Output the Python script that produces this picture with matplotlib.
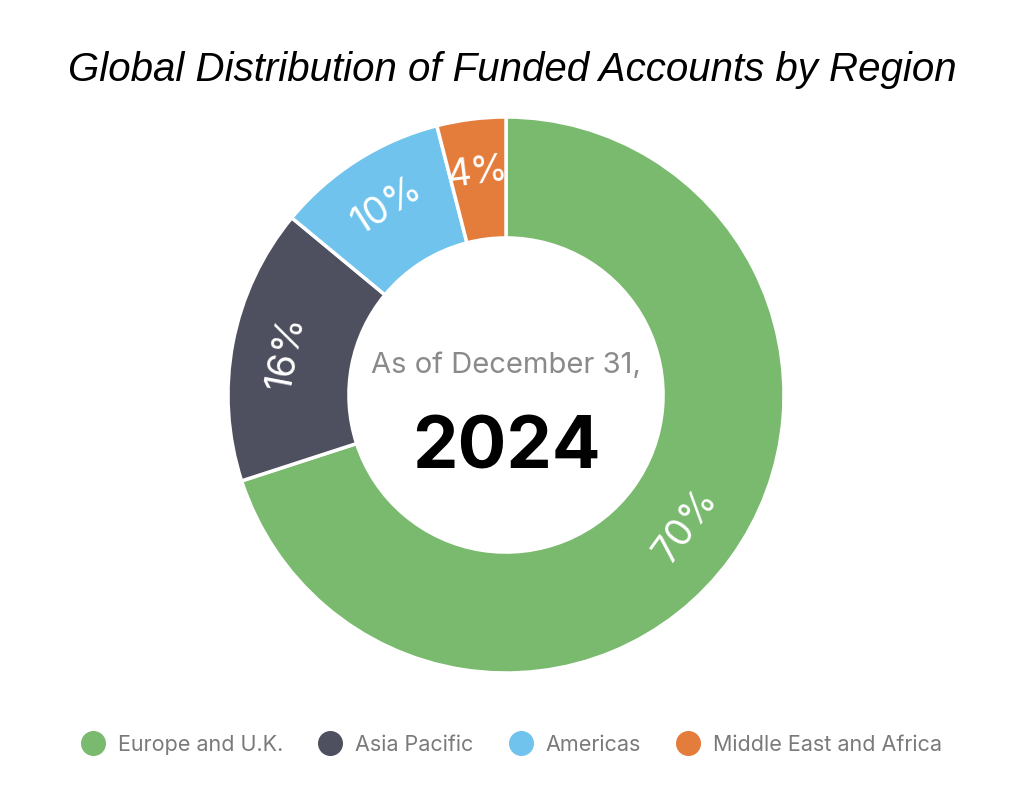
import matplotlib
matplotlib.use("Agg")
import matplotlib.pyplot as plt
from matplotlib.lines import Line2D
import numpy as np

regions = ["Europe and U.K.", "Asia Pacific", "Americas", "Middle East and Africa"]
shares = [70, 16, 10, 4]
colors = ["#7aba6e", "#4e4f5f", "#70c3ec", "#e47c3b"]
title = "Global Distribution of Funded Accounts by Region"
center_line1 = "As of December 31,"
center_line2 = "2024"

W, H = 1024, 806
fig = plt.figure(figsize=(W / 100, H / 100), dpi=100)
fig.patch.set_facecolor("white")

cx, cy, R = 506, 395, 278
ax = fig.add_axes([(cx - R) / W, (H - cy - R) / H, 2 * R / W, 2 * R / H])
ax.set_aspect("equal")
width = 0.435
wedges, _ = ax.pie(shares, colors=colors, startangle=90, counterclock=False,
                   radius=1.0, wedgeprops=dict(width=width, edgecolor="white", linewidth=2.5))
ax.set_xlim(-1, 1)
ax.set_ylim(-1, 1)
ax.axis("off")

label_r = 1 - width / 2 + 0.02
for w, s in zip(wedges, shares):
    ang = (w.theta1 + w.theta2) / 2
    rad = np.deg2rad(ang)
    x, y = label_r * np.cos(rad), label_r * np.sin(rad)
    rot = ((ang - 90 + 90) % 180) - 90
    ax.text(x, y, f"{s}%", color="white", fontsize=27, family="Inter", fontweight="normal",
            rotation=rot, rotation_mode="anchor", ha="center", va="center")

ax.text(0, 0.105, center_line1, color="#8a8a8a", fontsize=21, family="Inter",
        ha="center", va="center")
ax.text(0, -0.195, center_line2, color="black", fontsize=52, family="Inter",
        fontweight="bold", ha="center", va="center")

fig.text(0.5, 1 - 70 / H, title, ha="center", va="center", fontsize=29,
         family="Liberation Sans", style="italic")

handles = [Line2D([0], [0], marker="o", linestyle="none", markersize=17,
                  markerfacecolor=c, markeredgecolor=c) for c in colors]
leg = fig.legend(handles, regions, loc="center", bbox_to_anchor=(0.495, 1 - 745 / H),
                 ncol=4, frameon=False, handletextpad=0.15, columnspacing=1.2,
                 prop=dict(family="Inter", size=15.5))
for t in leg.get_texts():
    t.set_color("#7a7a7a")

fig.savefig("out.png", dpi=100, facecolor="white")
